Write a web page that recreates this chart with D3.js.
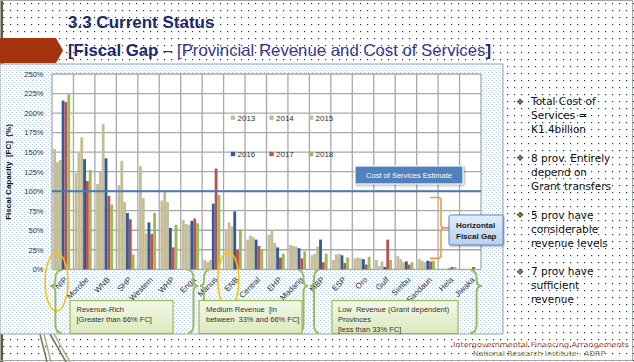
<!DOCTYPE html>
<html>
<head>
<meta charset="utf-8">
<script src="https://cdn.jsdelivr.net/npm/d3@7"></script>
<style>
  html, body { margin: 0; padding: 0; background: #fff; }
  svg { display: block; }
</style>
</head>
<body>
<svg id="slide" width="634" height="362"></svg>
<script>
// provinces, in chart order
const categories = ["NIP", "Morobe", "WNB", "SHP", "Western", "WHP", "Enga", "Manus", "ENB", "Central",
  "EHP", "Madang", "MBP", "ESP", "Oro", "Gulf", "Simbu", "Sandaun", "Hela", "Jiwaka"];
const years = ["2013", "2014", "2015", "2016", "2017", "2018"];

// fiscal capacity (%) per year
const fc2013 = [154, 123, 109, 108, 132, 88, 63, 12, 51, 38, 44, 31, 18, 12, 14, 12, 17, 13, 0, 0];
const fc2014 = [137, 149, 125, 139, 91, 100, 58, 9, 60, 43, 50, 30, 20, 19, 15, 4, 13, 11, 0, 0];
const fc2015 = [140, 169, 186, 86, 46, 86, 57, 12, 55, 41, 34, 29, 29, 20, 14, 10, 9, 9, 0, 0];
const fc2016 = [216, 141, 142, 72, 60, 53, 62, 84, 74, 38, 28, 27, 38, 18, 13, 3, 10, 11, 1, 0];
const fc2017 = [214, 113, 94, 64, 45, 28, 65, 129, 25, 30, 15, 14, 9, 8, 6, 38, 6, 10, 3, 3];
const fc2018 = [224, 127, 83, 19, 72, 57, 59, 95, 51, 25, 20, 23, 20, 15, 16, 12, 9, 11, 3, 0];

const yTicks = [0, 25, 50, 75, 100, 125, 150, 175, 200, 225, 250];
const costLevel = 100;       // cost of services estimate
const gapRange = [92, 14];   // horizontal fiscal gap bracket

const bullets = [
  ["Total Cost of", "Services =", "K1.4billion"],
  ["8 prov. Entirely", "depend on", "Grant transfers"],
  ["5 prov have", "considerable", "revenue levels"],
  ["7 prov have", "sufficient", "revenue"]
];

const groupLabels = [
  ["Revenue-Rich", "[Greater than 66% FC]"],
  ["Medium Revenue  [in", "between  33% and 66% FC]"],
  ["Low  Revenue (Grant dependent)", "Provinces", "[less than 33% FC]"]
];

const tan = "#c4bd97";
const colors = ["#c4bd97", "#c4bd97", "#c4bd97", "#2f5b9b", "#c0504d", "#9bbb59"];
const seriesVals = [fc2013, fc2014, fc2015, fc2016, fc2017, fc2018];

const svg = d3.select("#slide");
const defs = svg.append("defs");

// slide dot texture
const dots = defs.append("pattern").attr("id", "dots")
  .attr("width", 7).attr("height", 7).attr("patternUnits", "userSpaceOnUse");
dots.append("rect").attr("width", 7).attr("height", 7).attr("fill", "#fff");
dots.append("rect").attr("x", 3).attr("y", 3).attr("width", 1.2).attr("height", 1.2).attr("fill", "#1f3468");

// light blue texture of the chart area
const tex = defs.append("pattern").attr("id", "tex")
  .attr("width", 4).attr("height", 4).attr("patternUnits", "userSpaceOnUse");
tex.append("rect").attr("width", 4).attr("height", 4).attr("fill", "#fbfcfe");
tex.append("rect").attr("x", 0).attr("y", 0).attr("width", 1).attr("height", 1).attr("fill", "#b7cbe6");
tex.append("rect").attr("x", 2).attr("y", 2).attr("width", 1).attr("height", 1).attr("fill", "#b7cbe6");

const gGreen = defs.append("linearGradient").attr("id", "gGreen").attr("x1", 0).attr("y1", 0).attr("x2", 0).attr("y2", 1);
gGreen.append("stop").attr("offset", "0%").attr("stop-color", "#f3f8e8");
gGreen.append("stop").attr("offset", "100%").attr("stop-color", "#dbe9bd");

const gBlue = defs.append("linearGradient").attr("id", "gBlue").attr("x1", 0).attr("y1", 0).attr("x2", 0).attr("y2", 1);
gBlue.append("stop").attr("offset", "0%").attr("stop-color", "#e3edf9");
gBlue.append("stop").attr("offset", "100%").attr("stop-color", "#b9d0ee");

// background
svg.append("rect").attr("width", 634).attr("height", 362).attr("fill", "url(#dots)");
svg.append("rect").attr("x", 0).attr("y", 0).attr("width", 3).attr("height", 362).attr("fill", "#625c3e");
svg.append("rect").attr("x", 0.5).attr("y", 0.5).attr("width", 632).attr("height", 360)
  .attr("fill", "none").attr("stroke", "#a6a6a6");

// bottom-left decoration
[[40, 47], [44, 51], [50, 66], [54, 70]].forEach(([a, b], i) => {
  svg.append("line").attr("x1", a).attr("y1", 334).attr("x2", b).attr("y2", 362)
    .attr("stroke", i % 2 ? "#b5b09a" : "#7d775c").attr("stroke-width", 1.6);
});

// title
svg.append("polygon").attr("points", "0,38 56,38 63,50.5 56,63 0,63").attr("fill", "#a5330f");
svg.append("text").attr("x", 68).attr("y", 28)
  .style("font", "bold 17px 'Liberation Sans', Arial, sans-serif").attr("fill", "#1c2a6b")
  .text("3.3 Current Status");
const t2 = svg.append("text").attr("x", 68).attr("y", 56)
  .style("font", "16.5px 'Liberation Sans', Arial, sans-serif")
  .attr("textLength", 423).attr("lengthAdjust", "spacingAndGlyphs");
t2.append("tspan").attr("font-weight", "bold").attr("fill", "#1c2a6b").text("[Fiscal Gap");
t2.append("tspan").attr("fill", "#3b3590").text(" \u2013 [Provincial Revenue and Cost of Services");
t2.append("tspan").attr("font-weight", "bold").attr("fill", "#1c2a6b").text("]");

// chart area
svg.append("rect").attr("x", 0).attr("y", 64).attr("width", 503).attr("height", 270)
  .attr("fill", "url(#tex)").attr("stroke", "#a0a0a0").attr("stroke-width", 1);

const plot = { left: 52, right: 481, top: 74, bottom: 269.3 };
svg.append("rect").attr("x", plot.left).attr("y", plot.top)
  .attr("width", plot.right - plot.left).attr("height", plot.bottom - plot.top).attr("fill", "#fff");

const x = d3.scaleBand().domain(categories).range([plot.left, plot.right]);
const xs = d3.scaleBand().domain(years).range([1.2, 18.2]);
const y = d3.scaleLinear().domain([0, 250]).range([plot.bottom, plot.top]);

// gridlines
const grid = svg.append("g").attr("stroke", "#a9a9a9").attr("stroke-width", 1.3);
grid.selectAll("line.h").data(yTicks).enter().append("line")
  .attr("x1", plot.left).attr("x2", plot.right)
  .attr("y1", d => y(d)).attr("y2", d => y(d));
grid.selectAll("line.v").data(categories.map(c => x(c)).concat([plot.right])).enter().append("line")
  .attr("x1", d => d).attr("x2", d => d)
  .attr("y1", plot.top).attr("y2", plot.bottom);

// bars
const rows = categories.map((c, ci) => ({
  cat: c,
  vals: years.map((yr, si) => ({ year: yr, si: si, v: seriesVals[si][ci] }))
}));
const cat = svg.append("g").selectAll("g").data(rows).enter().append("g")
  .attr("transform", d => "translate(" + x(d.cat) + ",0)");
cat.selectAll("rect").data(d => d.vals).enter().append("rect")
  .attr("x", d => xs(d.year))
  .attr("width", xs.bandwidth())
  .attr("y", d => y(d.v))
  .attr("height", d => y(0) - y(d.v))
  .attr("fill", d => colors[d.si]);

// y axis
const yAxis = svg.append("g").attr("transform", "translate(" + plot.left + ",0)")
  .call(d3.axisLeft(y).tickValues(yTicks).tickFormat(d => d + "%").tickSize(0).tickPadding(8.5));
yAxis.select(".domain").remove();
yAxis.selectAll("text").style("font", "7.5px 'Liberation Sans', Arial, sans-serif").attr("fill", "#333");

svg.append("text").attr("transform", "translate(11,172) rotate(-90)").attr("text-anchor", "middle")
  .style("font", "bold 8px 'Liberation Sans', Arial, sans-serif").attr("fill", "#111")
  .attr("xml:space", "preserve")
  .text("Fiscal Capacity  [FC]  (%)");

// x axis
const xAxis = svg.append("g").attr("transform", "translate(0," + plot.bottom + ")")
  .call(d3.axisBottom(x).tickSize(0));
xAxis.select(".domain").remove();
xAxis.selectAll("text")
  .attr("x", 0).attr("y", 0).attr("dy", "0.35em")
  .attr("text-anchor", "end")
  .attr("transform", "translate(3,9) rotate(-45)")
  .style("font", "8px 'Liberation Sans', Arial, sans-serif").attr("fill", "#333");

// legend
const legend = svg.append("g");
years.forEach((yr, i) => {
  const lx = [233, 271.5, 311][i % 3];
  const ly = i < 3 ? 117.7 : 154;
  legend.append("rect").attr("x", lx - 2.2).attr("y", ly - 2.2).attr("width", 4.4).attr("height", 4.4)
    .attr("fill", colors[i]);
  legend.append("text").attr("x", lx + 4.5).attr("y", ly + 2.8)
    .style("font", "8px 'Liberation Sans', Arial, sans-serif").attr("fill", "#333").text(yr);
});

// cost of services line
svg.append("line").attr("x1", plot.left).attr("x2", plot.right)
  .attr("y1", y(costLevel)).attr("y2", y(costLevel))
  .attr("stroke", "#4a7ab8").attr("stroke-width", 2);

svg.append("rect").attr("x", 355).attr("y", 166).attr("width", 108).attr("height", 18)
  .attr("fill", "#4f81bd").attr("stroke", "#fff").attr("stroke-width", 1.2)
  .style("filter", "drop-shadow(1px 1px 1px rgba(0,0,0,0.35))");
svg.append("text").attr("x", 409).attr("y", 178).attr("text-anchor", "middle")
  .style("font", "7.5px 'Liberation Sans', Arial, sans-serif").attr("fill", "#fff")
  .text("Cost of Services Estimate");

// horizontal fiscal gap bracket
const bTop = y(gapRange[0]), bBot = y(gapRange[1]), bMid = (bTop + bBot) / 2;
svg.append("path")
  .attr("d", "M430," + bTop + " L438," + bTop + " Q441," + bTop + " 441," + (bTop + 3) +
    " L441," + (bMid - 3) + " Q441," + bMid + " 444," + bMid + " L449," + bMid +
    " M444," + bMid + " Q441," + bMid + " 441," + (bMid + 3) +
    " L441," + (bBot - 3) + " Q441," + bBot + " 438," + bBot + " L430," + bBot)
  .attr("fill", "none").attr("stroke", "#f79646").attr("stroke-width", 1.6);

svg.append("rect").attr("x", 449).attr("y", 215).attr("width", 54).attr("height", 30).attr("rx", 1.5)
  .attr("fill", "url(#gBlue)").attr("stroke", "#5b8ac6").attr("stroke-width", 1)
  .style("filter", "drop-shadow(1px 1px 1px rgba(0,0,0,0.3))");
["Horizontal", "Fiscal Gap"].forEach((s, i) => {
  svg.append("text").attr("x", 456).attr("y", 228 + i * 10.5)
    .style("font", "bold 8px 'Liberation Sans', Arial, sans-serif").attr("fill", "#1a1a1a").text(s);
});

// highlight ellipses
const ell = svg.append("g").attr("fill", "none").attr("stroke", "#ffc000").attr("stroke-width", 1.6);
ell.append("ellipse").attr("cx", x("NIP") + 4.5).attr("cy", 282).attr("rx", 11.5).attr("ry", 29);
ell.append("ellipse").attr("cx", x("ENB") + 4.7).attr("cy", 280).attr("rx", 10.5).attr("ry", 28);

// group braces
function brace(xc, xe, y0, y1, ym) {
  const xb = xc + (xe - xc) * 0.45;
  return "M" + xe + "," + y0 + " Q" + xb + "," + y0 + " " + xb + "," + (y0 + 9) +
    " L" + xb + "," + (ym - 6) + " Q" + xb + "," + ym + " " + xc + "," + ym +
    " Q" + xb + "," + ym + " " + xb + "," + (ym + 6) +
    " L" + xb + "," + (y1 - 9) + " Q" + xb + "," + y1 + " " + xe + "," + y1;
}
const braces = svg.append("g").attr("fill", "none").attr("stroke", "#9bbb59").attr("stroke-width", 2);
[[50, 62], [198, 188], [200, 209], [308, 298], [310, 319], [482, 470]].forEach(([xc, xe]) => {
  braces.append("path").attr("d", brace(xc, xe, 270, 333, 286));
});

// group boxes
const boxes = [
  { x: 70, w: 103, tx: 76.5 },
  { x: 199, w: 103, tx: 206 },
  { x: 332, w: 126, tx: 338 }
];
boxes.forEach((b, i) => {
  svg.append("rect").attr("x", b.x).attr("y", 300.5).attr("width", b.w).attr("height", 33)
    .attr("fill", "url(#gGreen)").attr("stroke", "#9bbb59").attr("stroke-width", 1.2);
  groupLabels[i].forEach((s, j) => {
    svg.append("text").attr("x", b.tx).attr("y", 312 + j * 10.2)
      .attr("xml:space", "preserve")
      .style("font", "7.5px 'Liberation Sans', Arial, sans-serif").attr("fill", "#333").text(s);
  });
});

// right-hand bullets
bullets.forEach((lines, i) => {
  const by = 105 + i * 56.8;
  svg.append("text").attr("x", 516).attr("y", by - 0.5)
    .style("font", "9px 'DejaVu Sans', sans-serif").attr("fill", "#4a4a2a").text("\u2756");
  lines.forEach((s, j) => {
    svg.append("text").attr("x", 531).attr("y", by + j * 14)
      .style("font", "10.5px 'DejaVu Sans', sans-serif").attr("fill", "#111").text(s);
  });
});

// footer
svg.append("text").attr("x", 453).attr("y", 347).attr("textLength", 176).attr("lengthAdjust", "spacingAndGlyphs")
  .style("font", "7px 'DejaVu Sans', sans-serif").attr("fill", "#b0452a")
  .text("Intergovernmental Financing Arrangements");
svg.append("text").attr("x", 473).attr("y", 356).attr("textLength", 132).attr("lengthAdjust", "spacingAndGlyphs")
  .style("font", "7px 'DejaVu Sans', sans-serif").attr("fill", "#6e7a2a")
  .text("National Research Institute - ADRP");
</script>
</body>
</html>
